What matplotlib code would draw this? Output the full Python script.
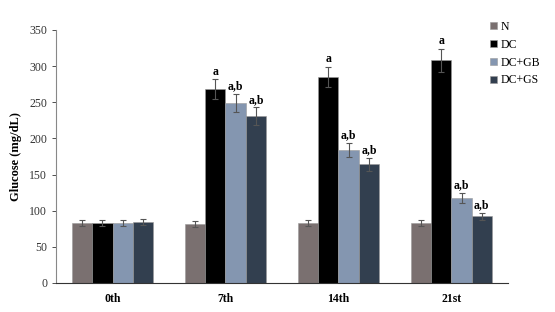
import numpy as np
import matplotlib.pyplot as plt

plt.rcParams['font.family'] = ['Liberation Serif', 'DejaVu Serif']

days = ["0th", "7th", "14th", "21st"]
groups = ["N", "DC", "DC+GB", "DC+GS"]
means = {
    "N": [83, 82, 83, 83],
    "DC": [83, 268, 285, 308],
    "DC+GB": [83, 249, 184, 118],
    "DC+GS": [84, 231, 164, 92],
}
errs = {
    "N": [4, 4, 4, 4],
    "DC": [4, 14, 14, 16],
    "DC+GB": [4, 13, 10, 7],
    "DC+GS": [4, 12, 9, 5],
}
labels = {
    "N": ["", "", "", ""],
    "DC": ["", "a", "a", "a"],
    "DC+GB": ["", "a,b", "a,b", "a,b"],
    "DC+GS": ["", "a,b", "a,b", "a,b"],
}
colors = ["#7a7070", "#000000", "#8496b0", "#323f4f"]

fig = plt.figure(figsize=(5.55, 3.12), dpi=100)
ax = fig.add_axes([0.101, 0.093, 0.814, 0.811])

x = np.arange(len(days))
w = 0.18
for i, g in enumerate(groups):
    xs = x + (i - 1.5) * w
    ax.bar(xs, means[g], w, color=colors[i], edgecolor="#9a9a9a", linewidth=0.4, label=g)
    ax.errorbar(xs, means[g], yerr=errs[g], fmt="none", ecolor="#555555",
                elinewidth=0.8, capsize=2.2, capthick=0.8)
    for xi, m, e, t in zip(xs, means[g], errs[g], labels[g]):
        if t:
            ax.text(xi, m + e + 2, t, ha="center", va="bottom", fontsize=8.5, fontweight="bold")

ax.set_xlim(-0.5, 3.5)
ax.set_ylim(0, 350)
ax.set_yticks(range(0, 351, 50))
ax.set_xticks(x)
ax.set_xticklabels(days, fontweight="bold", fontsize=8.5)
ax.tick_params(axis="x", length=0, pad=7)
ax.tick_params(axis="y", labelsize=8.5, length=3, width=0.6, colors="#333333")
ax.spines["top"].set_visible(False)
ax.spines["right"].set_visible(False)
ax.spines["left"].set_color("#888888")
ax.spines["bottom"].set_color("#333333")
ax.set_ylabel("Glucose (mg/dL)", fontweight="bold", fontsize=9, labelpad=5)

ax.legend(loc="upper left", bbox_to_anchor=(0.95, 1.055), frameon=False, fontsize=8.5,
          handlelength=0.6, handleheight=0.6, handletextpad=0.3, labelspacing=0.5,
          borderaxespad=0)

fig.savefig("out.png", dpi=100)
